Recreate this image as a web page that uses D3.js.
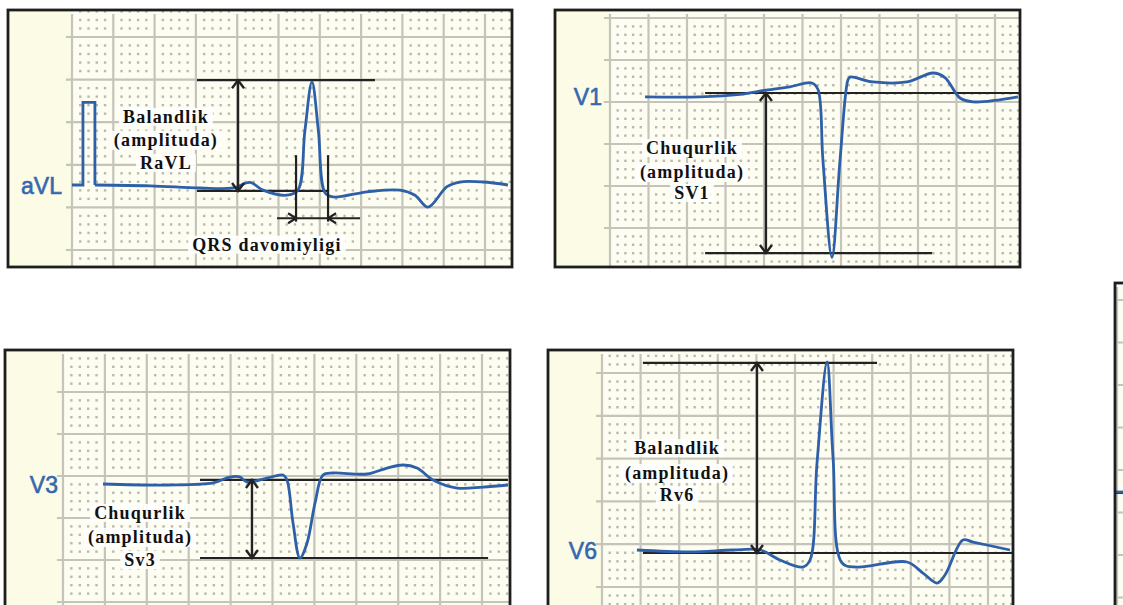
<!DOCTYPE html>
<html>
<head>
<title>EKG | amplituda</title>
<script src="https://d3js.org/d3.v7.min.js" charset="utf-8"></script>
<style>
body { margin: 0; background: #fff; }
.lead { font-family: "Liberation Sans", Arial, sans-serif; font-size: 23px; fill: #3567b0; stroke: #3567b0; stroke-width: 0.6px; }
.note { font-family: "Liberation Serif", "Times New Roman", serif; font-size: 18px; font-weight: bold; letter-spacing: 1.2px; fill: #111; }
</style>
</head>
<body>
<script>
var width = 1123;
var height = 605;

// lead names
var leadNames = ['aVL', 'V1', 'V3', 'V6', ''];

// ECG samples: [time (s), amplitude (mV)]
var calAVL = [[0, 0], [0.053, 0], [0.053, 0.97], [0.111, 0.97], [0.111, 0]];
var traceAVL = [[0.111, 0], [0.378, -0.01], [0.62, -0.035], [0.78, -0.035], [0.862, 0.03], [0.925, -0.06],
  [1.04, -0.12], [1.094, -0.06], [1.128, 0.64], [1.162, 1.21], [1.193, 0.64], [1.225, -0.09], [1.264, -0.14],
  [1.429, -0.08], [1.588, -0.06], [1.661, -0.12], [1.724, -0.26], [1.816, -0.02], [1.879, 0.035],
  [1.99, 0.035], [2.111, 0]];
var traceV1 = [[0.182, -0.01], [0.468, -0.01], [0.675, 0.02], [0.81, 0.07], [0.935, 0.11], [1.049, 0.155],
  [1.08, 0.08], [1.106, -0.76], [1.153, -1.92], [1.195, -0.76], [1.236, 0.19], [1.247, 0.225], [1.366, 0.167],
  [1.543, 0.167], [1.678, 0.274], [1.74, 0.22], [1.818, -0.024], [1.886, -0.07], [2.119, -0.01]];
var traceV3 = [[0.191, 0], [0.496, -0.012], [0.716, 0.012], [0.797, 0.083], [0.845, 0.083], [0.878, 0.024],
  [0.974, 0.071], [1.05, 0.107], [1.069, 0.048], [1.098, -0.464], [1.131, -0.881], [1.165, -0.702],
  [1.203, -0.226], [1.241, 0.107], [1.289, 0.131], [1.451, 0.119], [1.547, 0.19], [1.623, 0.226],
  [1.69, 0.19], [1.766, 0.048], [1.881, -0.048], [2.005, -0.036], [2.124, -0.012]];
var traceV6 = [[0.181, 0], [0.456, -0.023], [0.679, 0], [0.819, 0], [0.922, -0.117], [1.041, -0.199],
  [1.078, -0.117], [1.114, 1.016], [1.166, 2.196], [1.197, 1.086], [1.244, -0.152], [1.321, -0.199],
  [1.58, -0.14], [1.663, -0.269], [1.736, -0.386], [1.777, -0.292], [1.87, 0.117], [1.922, 0.093],
  [2.114, 0]];
var traceNext = [[-0.01, 0], [0.04, 0]];

// measuring lines: [t start, t end, mV]
var refAVL = [[0.605, 1.467, 1.23], [0.605, 1.24, -0.07]];
var refV1 = [[0.494, 2.13, 0.036], [0.494, 1.673, -1.87]];
var refV3 = [[0.654, 2.124, 0.048], [0.654, 2.029, -0.881]];
var refV6 = [[0.212, 1.425, 2.185], [0.212, 2.166, -0.035]];

// amplitude arrows: [t, mV top, mV bottom]
var arrowAVL = [0.804, 1.23, -0.07];
var arrowV1 = [0.81, 0.036, -1.87];
var arrowV3 = [0.902, 0.048, -0.881];
var arrowV6 = [0.803, 2.185, -0.035];

// QRS width marker (aVL): verticals, arrow line
var qrsTimes = [1.085, 1.24];
var qrsSpan = [0.35, -0.43];
var qrsArrow = [0.993, 1.395, -0.39];

// annotation texts and their centres [t, mV]
var textAVL = ['Balandlik', '(amplituda)', 'RaVL'];
var textV1 = ['Chuqurlik', '(amplituda)', 'SV1'];
var textV3 = ['Chuqurlik', '(amplituda)', 'Sv3'];
var textV6 = ['Balandlik', '(amplituda)', 'Rv6'];
var textPosAVL = [0.455, [0.80, 0.53, 0.26]];
var textPosV1 = [0.426, [-0.62, -0.905, -1.155]];
var textPosV3 = [0.368, [-0.345, -0.631, -0.905]];
var textPosV6 = [0.389, [1.19, 0.9, 0.64]];
var qrsLabel = 'QRS davomiyligi';
var qrsLabelPos = [0.944, -0.70];

// panel layout (pixels)
var panels = [
  {name: leadNames[0], x: 8, y: 10, w: 504, h: 257, gx: 72, pxs: 206.5, pxmv: 85.2, base: 185, gy: 37, ldx: 10,
   trace: traceAVL, cal: calAVL, refs: refAVL, arrow: arrowAVL, text: textAVL, textPos: textPosAVL},
  {name: leadNames[1], x: 555, y: 10, w: 465, h: 257, gx: 610, pxs: 192.5, pxmv: 84, base: 96, gy: 60, ldx: 8,
   trace: traceV1, refs: refV1, arrow: arrowV1, text: textV1, textPos: textPosV1},
  {name: leadNames[2], x: 5, y: 350, w: 505, h: 290, gx: 63, pxs: 209.5, pxmv: 84, base: 484, gy: 392, ldx: 5,
   trace: traceV3, refs: refV3, arrow: arrowV3, text: textV3, textPos: textPosV3},
  {name: leadNames[3], x: 548, y: 350, w: 465, h: 290, gx: 602, pxs: 193, pxmv: 85.6, base: 550, gy: 373, ldx: 5,
   trace: traceV6, refs: refV6, arrow: arrowV6, text: textV6, textPos: textPosV6},
  {name: leadNames[4], x: 1115, y: 283, w: 60, h: 400, gx: 1117, pxs: 200, pxmv: 85, base: 492, gy: 300, ldx: 5,
   trace: traceNext, refs: [[-0.01, 0.04, -0.01]]}
];

var svg = d3.select("body")
  .append("svg")
  .attr("width", width)
  .attr("height", height);

var line = d3.line().curve(d3.curveCatmullRom.alpha(0.5));
var straight = d3.line();

panels.forEach(function(p, i) {
  var x = d3.scaleLinear().domain([0, 1]).range([p.gx, p.gx + p.pxs]);
  var y = d3.scaleLinear().domain([0, 1]).range([p.base, p.base - p.pxmv]);
  var cw = x(0.2) - x(0);
  var ch = p.pxmv * 0.5;
  var right = p.x + p.w, bottom = p.y + p.h;

  svg.append("clipPath").attr("id", "clip" + i)
    .append("rect").attr("x", p.x).attr("y", p.y).attr("width", p.w).attr("height", p.h);

  var g = svg.append("g");
  var inner = g.append("g").attr("clip-path", "url(#clip" + i + ")");

  // paper
  inner.append("rect").attr("x", p.x).attr("y", p.y).attr("width", p.w).attr("height", p.h)
    .attr("fill", "#fcfbe5");
  inner.append("rect").attr("x", p.gx).attr("y", p.y).attr("width", right - p.gx).attr("height", p.h)
    .attr("fill", "#fdfdf2");

  // dots 4x4 per big cell
  var cols = d3.range(0, Math.ceil((right - p.gx) / cw * 5) + 1).filter(function(k) { return k % 5 != 0; })
    .map(function(k) { return p.gx + k * cw / 5; });
  var j0 = -Math.ceil((p.gy - p.y) / ch * 5) - 1;
  var j1 = Math.ceil((bottom - p.gy) / ch * 5) + 1;
  var rows = d3.range(j0, j1).filter(function(k) { return ((k % 5) + 5) % 5 != 0; })
    .map(function(k) { return p.gy + k * ch / 5; });
  var dots = d3.cross(cols, rows);
  inner.selectAll("rect.dot").data(dots).enter().append("rect")
    .attr("class", "dot")
    .attr("x", function(d) { return d[0] - 1.2; })
    .attr("y", function(d) { return d[1] - 1.2; })
    .attr("width", 2.4).attr("height", 2.4)
    .attr("fill", "#b9b9af");

  // major grid
  var vx = d3.range(0, Math.ceil((right - p.gx) / cw) + 1).map(function(k) { return p.gx + k * cw; });
  var hy = d3.range(Math.floor(j0 / 5), Math.ceil(j1 / 5) + 1).map(function(k) { return p.gy + k * ch; })
    .filter(function(v) { return v > p.y + 4; });
  inner.selectAll("line.v").data(vx).enter().append("line")
    .attr("x1", function(d) { return d; }).attr("x2", function(d) { return d; })
    .attr("y1", p.y + 4).attr("y2", bottom)
    .attr("stroke", "#c4c4ba").attr("stroke-width", 2.2);
  inner.selectAll("line.h").data(hy).enter().append("line")
    .attr("x1", p.gx - 6).attr("x2", right)
    .attr("y1", function(d) { return d; }).attr("y2", function(d) { return d; })
    .attr("stroke", "#c4c4ba").attr("stroke-width", 2.2);

  // measuring lines
  inner.selectAll("line.ref").data(p.refs).enter().append("line")
    .attr("x1", function(d) { return x(d[0]); }).attr("x2", function(d) { return x(d[1]); })
    .attr("y1", function(d) { return y(d[2]); }).attr("y2", function(d) { return y(d[2]); })
    .attr("stroke", "#222").attr("stroke-width", 2.2);

  // ECG trace
  if (p.cal) {
    inner.append("path").attr("d", straight(p.cal.map(function(d) { return [x(d[0]), y(d[1])]; })))
      .attr("fill", "none").attr("stroke", "#2d60a8").attr("stroke-width", 2.8);
  }
  inner.append("path").attr("d", line(p.trace.map(function(d) { return [x(d[0]), y(d[1])]; })))
    .attr("fill", "none").attr("stroke", "#2d60a8").attr("stroke-width", 2.8)
    .attr("stroke-linejoin", "round");

  // amplitude arrow
  if (p.arrow) {
    var ax = x(p.arrow[0]), at = y(p.arrow[1]), ab = y(p.arrow[2]);
    var a = inner.append("g").attr("fill", "none").attr("stroke", "#222").attr("stroke-width", 2.4);
    a.append("line").attr("x1", ax).attr("x2", ax).attr("y1", at + 1).attr("y2", ab - 1);
    a.append("path").attr("d", "M" + (ax - 6) + "," + (at + 8) + "L" + ax + "," + at + "L" + (ax + 6) + "," + (at + 8));
    a.append("path").attr("d", "M" + (ax - 6) + "," + (ab - 8) + "L" + ax + "," + ab + "L" + (ax + 6) + "," + (ab - 8));
  }

  // QRS duration marker
  if (i == 0) {
    var q = inner.append("g").attr("fill", "none").attr("stroke", "#222").attr("stroke-width", 2.2);
    q.selectAll("line.qv").data(qrsTimes).enter().append("line")
      .attr("x1", function(d) { return x(d); }).attr("x2", function(d) { return x(d); })
      .attr("y1", y(qrsSpan[0])).attr("y2", y(qrsSpan[1]));
    var qy = y(qrsArrow[2]), q0 = x(qrsTimes[0]), q1 = x(qrsTimes[1]);
    q.append("line").attr("x1", x(qrsArrow[0])).attr("x2", x(qrsArrow[1])).attr("y1", qy).attr("y2", qy);
    q.append("path").attr("d", "M" + (q0 - 8) + "," + (qy - 5) + "L" + q0 + "," + qy + "L" + (q0 - 8) + "," + (qy + 5));
    q.append("path").attr("d", "M" + (q1 + 8) + "," + (qy - 5) + "L" + q1 + "," + qy + "L" + (q1 + 8) + "," + (qy + 5));
  }

  // annotation text with white backing
  var notes = [];
  if (p.text) {
    p.text.forEach(function(t, k) { notes.push({t: t, x: x(p.textPos[0]), y: y(p.textPos[1][k])}); });
  }
  if (i == 0) notes.push({t: qrsLabel, x: x(qrsLabelPos[0]), y: y(qrsLabelPos[1])});
  notes.forEach(function(n) {
    var back = inner.append("rect");
    var txt = inner.append("text").attr("class", "note")
      .attr("x", n.x).attr("y", n.y).attr("text-anchor", "middle").attr("dominant-baseline", "central")
      .text(n.t);
    var b = txt.node().getBBox();
    back.attr("x", b.x - 4).attr("y", b.y + 1).attr("width", b.width + 8).attr("height", b.height - 2)
      .attr("fill", "#fff").attr("opacity", 0.9);
  });

  // lead label
  if (p.name) {
    g.append("text").attr("class", "lead")
      .attr("x", p.gx - p.ldx).attr("y", p.base + 1)
      .attr("text-anchor", "end").attr("dominant-baseline", "central")
      .text(p.name);
  }

  // frame
  g.append("rect").attr("x", p.x).attr("y", p.y).attr("width", p.w).attr("height", p.h)
    .attr("fill", "none").attr("stroke", "#1e1e1e").attr("stroke-width", 2.8);
});
</script>
</body>
</html>
